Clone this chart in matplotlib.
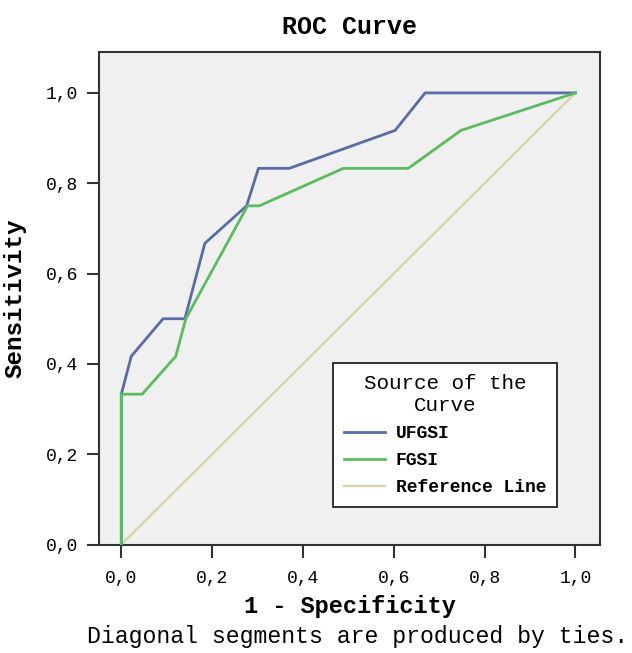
import matplotlib
matplotlib.use("Agg")
import matplotlib.pyplot as plt
from matplotlib.ticker import FuncFormatter

# ROC points (1 - specificity, sensitivity)
ufgsi_fpr = [0.0, 0.0, 0.022, 0.092, 0.140, 0.184, 0.276, 0.302, 0.370, 0.603, 0.669, 1.0]
ufgsi_tpr = [0.0, 0.333, 0.417, 0.500, 0.500, 0.667, 0.750, 0.833, 0.833, 0.917, 1.000, 1.0]

fgsi_fpr = [0.0, 0.0, 0.046, 0.120, 0.142, 0.278, 0.304, 0.489, 0.632, 0.748, 1.0]
fgsi_tpr = [0.0, 0.333, 0.333, 0.417, 0.500, 0.750, 0.750, 0.833, 0.833, 0.917, 1.0]

ref_x = [0.0, 1.0]
ref_y = [0.0, 1.0]

ticks = [0.0, 0.2, 0.4, 0.6, 0.8, 1.0]
legend_title = "Source of the\nCurve"
labels = ["UFGSI", "FGSI", "Reference Line"]

MONO = "Liberation Mono"
plt.rcParams["font.family"] = [MONO, "DejaVu Sans Mono"]

fig = plt.figure(figsize=(6.32, 6.53), dpi=100)
ax = fig.add_axes([0.156, 0.166, 0.794, 0.754])
ax.set_facecolor("#f0f0f0")

ax.plot(ref_x, ref_y, color="#d8d3a6", lw=1.6, label=labels[2], zorder=2)
ax.plot(ufgsi_fpr, ufgsi_tpr, color="#5a6ca8", lw=2.0, label=labels[0], zorder=3)
ax.plot(fgsi_fpr, fgsi_tpr, color="#5abb5f", lw=2.0, label=labels[1], zorder=4)

ax.set_xlim(-0.05, 1.055)
ax.set_ylim(0.0, 1.09)
ax.set_xticks(ticks)
ax.set_yticks(ticks)
fmt = FuncFormatter(lambda v, p: f"{v:.1f}".replace(".", ","))
ax.xaxis.set_major_formatter(fmt)
ax.yaxis.set_major_formatter(fmt)
ax.tick_params(direction="out", length=9, width=1.5, color="#333333",
               labelsize=13, pad=6)
ax.tick_params(axis="x", pad=9)
for sp in ax.spines.values():
    sp.set_color("#333333")
    sp.set_linewidth(1.5)

ax.set_title("ROC Curve", fontsize=18, fontweight="bold", pad=13)
ax.set_xlabel("1 - Specificity", fontsize=17, fontweight="bold", labelpad=6)
ax.set_ylabel("Sensitivity", fontsize=17.5, fontweight="bold", labelpad=14)

handles, lbls = ax.get_legend_handles_labels()
order = [1, 2, 0]
leg = ax.legend([handles[i] for i in order], [lbls[i] for i in order],
                title=legend_title, loc="lower right",
                bbox_to_anchor=(0.914, 0.077), borderaxespad=0,
                frameon=True, fancybox=False,
                edgecolor="#222222", facecolor="white", framealpha=1,
                prop={"size": 13, "weight": "bold"}, title_fontsize=15,
                handlelength=2.3, handletextpad=0.6, labelspacing=0.55,
                borderpad=0.6)
leg.get_frame().set_linewidth(1.3)
leg.get_title().set_multialignment("center")

fig.text(0.565, 0.026, "Diagonal segments are produced by ties.",
         ha="center", va="center", fontsize=16.7)

fig.savefig("out.png", dpi=100, facecolor="white")
